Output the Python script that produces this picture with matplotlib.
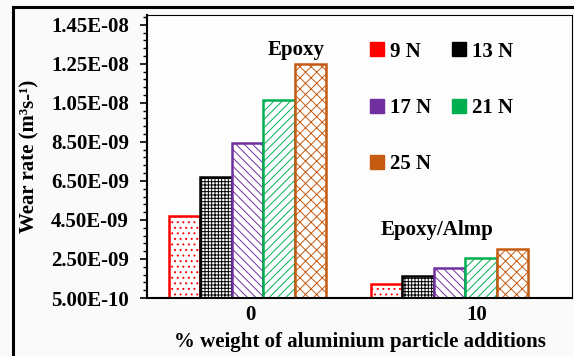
import matplotlib.pyplot as plt
from matplotlib.patches import Patch, Rectangle
from matplotlib.ticker import FixedLocator, FuncFormatter
import numpy as np

groups = ['0', '10']
loads = ['9 N', '13 N', '17 N', '21 N', '25 N']
wear_epoxy = [4.70e-9, 6.70e-9, 8.45e-9, 1.062e-8, 1.25e-8]
wear_almp = [1.20e-9, 1.63e-9, 2.04e-9, 2.54e-9, 3.00e-9]
colors = ['#ff0000', '#000000', '#7030a0', '#00b050', '#c55a11']
hatches = ['...', '+++++', '\\\\\\\\', '////', 'xxx']

plt.rcParams['font.family'] = 'Liberation Serif'
plt.rcParams['font.weight'] = 'bold'
plt.rcParams['hatch.linewidth'] = 0.7

fig = plt.figure(figsize=(5.74, 3.56), dpi=100, facecolor='#fafafa')
ax = fig.add_axes([147 / 574, 58 / 356, 425 / 574, 283 / 356])
ax.set_facecolor('#fdfdfd')

# 外框
fig.patches.append(Rectangle((13 / 574, -0.05), 1.1, (356 - 7) / 356 + 0.05,
                             transform=fig.transFigure, fill=False,
                             edgecolor='black', linewidth=2.2))

x = np.arange(len(groups))
w = 0.156
for i in range(len(loads)):
    vals = [wear_epoxy[i], wear_almp[i]]
    ax.bar(x + (i - 2) * w, vals, width=w, bottom=0, color='white',
           edgecolor=colors[i], hatch=hatches[i], linewidth=1.8, zorder=2)

ax.set_ylim(5e-10, 1.50e-8)
ax.set_xlim(-0.4975, 1.606)

major = np.arange(5e-10, 1.46e-8, 2e-9)
minor = np.arange(5e-10, 1.50e-8, 4e-10)
ax.yaxis.set_major_locator(FixedLocator(major))
ax.yaxis.set_minor_locator(FixedLocator(minor))
ax.yaxis.set_major_formatter(FuncFormatter(lambda v, p: f'{v:.2E}'))
ax.tick_params(axis='y', which='major', length=5, width=1.2, labelsize=15, pad=8)
ax.tick_params(axis='y', which='minor', length=3, width=1.0)
# 标签位置略偏右
ax.set_xticks([0.012, 1.134])
ax.set_xticklabels(groups)
ax.tick_params(axis='x', length=0, labelsize=15, pad=5)

for s in ['left', 'bottom']:
    ax.spines[s].set_linewidth(1.5)
for s in ['top', 'right']:
    ax.spines[s].set_linewidth(0.8)

ax.set_ylabel('Wear rate (m³s-¹)', fontsize=15, fontweight='bold', labelpad=8)
ax.set_xlabel('% weight of aluminium particle additions', fontsize=15,
              fontweight='bold', labelpad=5)

ax.text(0.24, 1.32e-8, 'Epoxy', fontsize=15, fontweight='bold', ha='center', va='center')
ax.text(0.938, 4.0e-9, 'Epoxy/Almp', fontsize=15, fontweight='bold', ha='center', va='center')

handles = [Patch(facecolor=c, edgecolor=c) for c in colors]
order = [0, 2, 4, 1, 3]
ax.legend([handles[k] for k in order], [loads[k] for k in order], ncol=2,
          loc='upper left', bbox_to_anchor=(0.486, 0.965), frameon=False,
          fontsize=15, handlelength=0.65, handleheight=0.65, handletextpad=0.3,
          labelspacing=1.75, columnspacing=1.0, borderpad=0.3)

plt.savefig('out.png', dpi=100, facecolor=fig.get_facecolor())
